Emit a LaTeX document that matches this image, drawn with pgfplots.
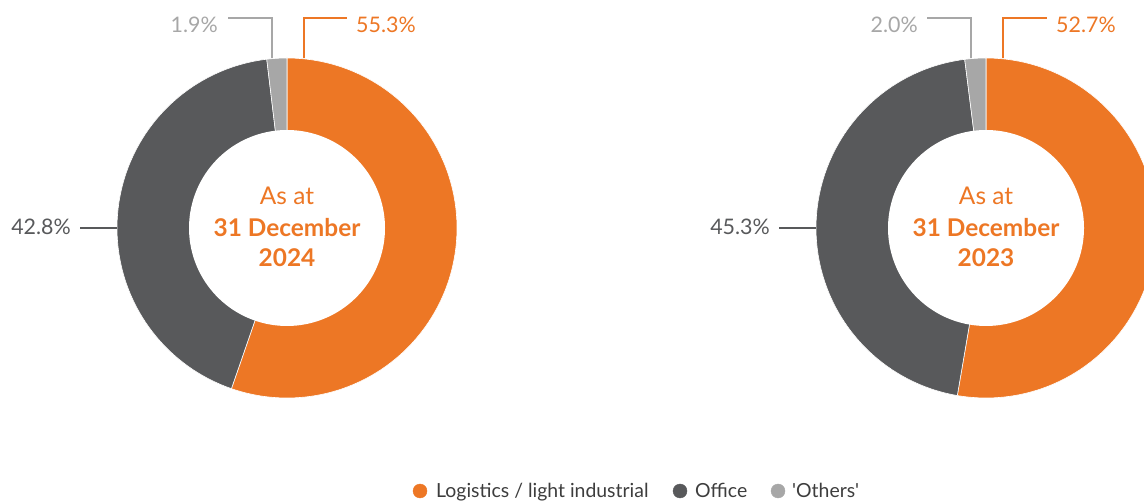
\documentclass[border=0pt]{standalone}
\usepackage{pgfplots}
\pgfplotsset{compat=1.18}
\usepackage{fontspec}
\setmainfont{Lato}
\definecolor{cOrange}{HTML}{ED7725}
\definecolor{cDark}{HTML}{58595B}
\definecolor{cLight}{HTML}{A7A7A7}
\definecolor{cText}{HTML}{3D3D3D}
% shares (%)
\def\LogA{55.3}\def\OffA{42.8}\def\OthA{1.9}
\def\LogB{52.7}\def\OffB{45.3}\def\OthB{2.0}
\pgfmathsetmacro\aAi{90-3.6*\LogA}
\pgfmathsetmacro\aAii{\aAi-3.6*\OffA}
\pgfmathsetmacro\aAiii{\aAii-3.6*\OthA}
\pgfmathsetmacro\aBi{90-3.6*\LogB}
\pgfmathsetmacro\aBii{\aBi-3.6*\OffB}
\pgfmathsetmacro\aBiii{\aBii-3.6*\OthB}
\begin{document}
\begin{tikzpicture}
\begin{axis}[at={(0,0)}, anchor=south west, scale only axis,
  width=1144bp, height=502bp, xmin=0, xmax=1144, ymin=0, ymax=502,
  hide axis, clip=true]
% ---- donut 1 (2024)
\addplot[fill=cOrange, draw=white, line width=0.6bp, domain=\aAi:90, samples=120, variable=\t] ({287+170*cos(\t)},{274+170*sin(\t)}) -- (axis cs:287,274) -- cycle;
\addplot[fill=cDark, draw=white, line width=0.6bp, domain=\aAii:\aAi, samples=120, variable=\t] ({287+170*cos(\t)},{274+170*sin(\t)}) -- (axis cs:287,274) -- cycle;
\addplot[fill=cLight, draw=white, line width=0.6bp, domain=\aAiii:\aAii, samples=20, variable=\t] ({287+170*cos(\t)},{274+170*sin(\t)}) -- (axis cs:287,274) -- cycle;
\addplot[fill=white, draw=none, domain=0:360, samples=180, variable=\t] ({287+98*cos(\t)},{274+98*sin(\t)}) -- cycle;
% ---- donut 2 (2023)
\addplot[fill=cOrange, draw=white, line width=0.6bp, domain=\aBi:90, samples=120, variable=\t] ({986+170*cos(\t)},{274+170*sin(\t)}) -- (axis cs:986,274) -- cycle;
\addplot[fill=cDark, draw=white, line width=0.6bp, domain=\aBii:\aBi, samples=120, variable=\t] ({986+170*cos(\t)},{274+170*sin(\t)}) -- (axis cs:986,274) -- cycle;
\addplot[fill=cLight, draw=white, line width=0.6bp, domain=\aBiii:\aBii, samples=20, variable=\t] ({986+170*cos(\t)},{274+170*sin(\t)}) -- (axis cs:986,274) -- cycle;
\addplot[fill=white, draw=none, domain=0:360, samples=180, variable=\t] ({986+98*cos(\t)},{274+98*sin(\t)}) -- cycle;
% ---- leader lines
\addplot[cOrange, line width=1.2bp, mark=none] coordinates {(304,443.5) (304,484) (347,484)};
\addplot[cLight, line width=1.2bp, mark=none] coordinates {(228,484) (272,484) (272,443.5)};
\addplot[cDark, line width=1.2bp, mark=none] coordinates {(80,274) (117,274)};
\addplot[cOrange, line width=1.2bp, mark=none] coordinates {(1003,443.5) (1003,484) (1047,484)};
\addplot[cLight, line width=1.2bp, mark=none] coordinates {(927,484) (971,484) (971,443.5)};
\addplot[cDark, line width=1.2bp, mark=none] coordinates {(779,274) (816,274)};
% ---- legend markers
\addplot[only marks, mark=*, mark size=7bp, color=cOrange] coordinates {(420,11)};
\addplot[only marks, mark=*, mark size=7bp, color=cDark] coordinates {(680,11)};
\addplot[only marks, mark=*, mark size=7bp, color=cLight] coordinates {(778,11)};
% ---- labels
\node[anchor=base west, text=cOrange, font=\fontsize{21.5}{25}\selectfont, inner sep=0pt] at (axis cs:356,469) {55.3\%};
\node[anchor=base east, text=cLight, font=\fontsize{21.5}{25}\selectfont, inner sep=0pt] at (axis cs:218,469) {1.9\%};
\node[anchor=base east, text=cDark, font=\fontsize{21.5}{25}\selectfont, inner sep=0pt] at (axis cs:71,267) {42.8\%};
\node[anchor=base west, text=cOrange, font=\fontsize{21.5}{25}\selectfont, inner sep=0pt] at (axis cs:1056,469) {52.7\%};
\node[anchor=base east, text=cLight, font=\fontsize{21.5}{25}\selectfont, inner sep=0pt] at (axis cs:918,469) {2.0\%};
\node[anchor=base east, text=cDark, font=\fontsize{21.5}{25}\selectfont, inner sep=0pt] at (axis cs:770,267) {45.3\%};
% centre texts
\node[anchor=base, text=cOrange, font=\fontsize{24.5}{28}\selectfont, inner sep=0pt] at (axis cs:287,297) {As at};
\node[anchor=base, text=cOrange, font=\fontsize{24.5}{28}\selectfont\bfseries, inner sep=0pt] at (axis cs:287,265) {31 December};
\node[anchor=base, text=cOrange, font=\fontsize{24.5}{28}\selectfont\bfseries, inner sep=0pt] at (axis cs:287,235) {2024};
\node[anchor=base, text=cOrange, font=\fontsize{24.5}{28}\selectfont, inner sep=0pt] at (axis cs:986,297) {As at};
\node[anchor=base, text=cOrange, font=\fontsize{24.5}{28}\selectfont\bfseries, inner sep=0pt] at (axis cs:986,265) {31 December};
\node[anchor=base, text=cOrange, font=\fontsize{24.5}{28}\selectfont\bfseries, inner sep=0pt] at (axis cs:986,235) {2023};
% legend texts
\node[anchor=base west, text=cText, font=\fontsize{19.5}{23}\selectfont, inner sep=0pt] at (axis cs:436,4.5) {Logistics / light industrial};
\node[anchor=base west, text=cText, font=\fontsize{19.5}{23}\selectfont, inner sep=0pt] at (axis cs:695,4.5) {Office};
\node[anchor=base west, text=cText, font=\fontsize{19.5}{23}\selectfont, inner sep=0pt] at (axis cs:792,4.5) {\textquotesingle Others\textquotesingle};
\end{axis}
\pgfresetboundingbox
\useasboundingbox (0,0) rectangle (1144bp,502bp);
\end{tikzpicture}
\end{document}
